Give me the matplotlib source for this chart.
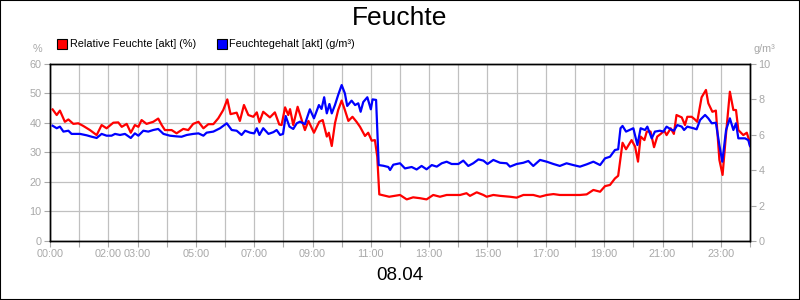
import matplotlib
matplotlib.use("Agg")
import matplotlib.pyplot as plt
from matplotlib.patches import Rectangle
from matplotlib.lines import Line2D

plt.rcParams['font.family'] = ['Liberation Sans', 'DejaVu Sans']

# Relative Feuchte (%), Zeit in Stunden
rh_t = [0.09, 0.23, 0.34, 0.51, 0.63, 0.80, 0.97, 1.14, 1.37, 1.60, 1.77, 1.94,
        2.17, 2.34, 2.46, 2.63, 2.77, 2.91, 3.03, 3.14, 3.31, 3.54, 3.71, 3.83,
        3.94, 4.17, 4.34, 4.57, 4.74, 4.91, 5.09, 5.26, 5.43, 5.60, 5.77, 5.94,
        6.08, 6.19, 6.40, 6.51, 6.65, 6.80, 6.97, 7.09, 7.18, 7.31, 7.54, 7.71,
        7.86, 7.94, 8.06, 8.17, 8.23, 8.34, 8.49, 8.63, 8.74, 8.86, 9.05, 9.23,
        9.35, 9.49, 9.56, 9.66, 9.77, 9.88, 10.0, 10.11, 10.23, 10.37, 10.51, 10.63,
        10.80, 10.91, 11.03, 11.14, 11.22, 11.29, 11.63,
        12.0, 12.23, 12.45, 12.69, 12.91, 13.14, 13.37, 13.6, 13.83, 14.06, 14.28,
        14.40, 14.63, 14.86, 14.97, 15.2, 15.43, 15.77, 16.0, 16.23, 16.57, 16.8,
        17.03, 17.26, 17.48, 17.71, 17.94, 18.17, 18.4, 18.63, 18.86, 19.03, 19.2,
        19.37, 19.48, 19.63, 19.75, 19.94, 20.06, 20.16, 20.25, 20.38, 20.46, 20.59,
        20.71, 20.82, 20.94, 21.06, 21.14, 21.28, 21.39, 21.48, 21.66, 21.77, 21.85,
        22.0, 22.11, 22.19, 22.34, 22.49, 22.57, 22.71, 22.83, 22.95, 23.06, 23.18,
        23.31, 23.43, 23.52, 23.6, 23.77, 23.89, 23.97, 24.0]
rh_v = [44.6, 42.7, 44.2, 40.4, 41.2, 39.7, 39.9, 39.0, 37.6, 35.9, 39.3, 38.2,
        40.1, 40.2, 38.7, 39.7, 36.7, 39.3, 38.7, 41.0, 39.7, 40.4, 41.5, 39.3,
        37.6, 37.6, 36.5, 38.0, 37.6, 39.7, 40.4, 38.2, 39.6, 39.6, 41.6, 44.4,
        48.0, 43.0, 43.5, 40.7, 46.1, 42.7, 42.1, 43.6, 40.3, 43.8, 41.9, 43.6,
        39.5, 39.3, 45.3, 42.7, 44.7, 39.3, 45.5, 41.0, 37.6, 40.7, 36.7, 40.4,
        41.0, 35.4, 36.7, 32.2, 39.9, 44.4, 47.6, 44.4, 40.7, 42.1, 40.4, 38.7,
        35.6, 36.7, 34.0, 34.2, 28.6, 15.8, 15.0,
        15.6, 14.1, 14.8, 14.5, 14.1, 15.6, 15.0, 15.6, 15.6, 15.6, 16.2,
        15.3, 16.5, 15.6, 15.0, 15.6, 15.3, 15.0, 14.7, 15.6, 15.6, 15.0,
        15.6, 15.9, 15.6, 15.6, 15.6, 15.6, 15.8, 17.3, 16.7, 18.6, 19.0,
        21.2, 22.1, 33.3, 31.1, 34.2, 32.0, 26.9, 35.4, 34.2, 37.1, 37.1,
        31.8, 35.4, 36.3, 37.4, 35.9, 38.2, 36.3, 42.7, 41.9, 39.3, 42.1,
        42.1, 41.2, 40.4, 48.7, 51.2, 46.7, 43.8, 44.2, 27.5, 22.4, 36.5,
        50.6, 44.4, 44.4, 37.6, 35.9, 36.7, 34.2, 32.2]

# Feuchtegehalt (g/m³)
ah_t = [0.09, 0.23, 0.34, 0.46, 0.63, 0.74, 1.03, 1.26, 1.43, 1.60, 1.77, 1.94,
        2.11, 2.23, 2.40, 2.57, 2.77, 2.91, 3.03, 3.20, 3.37, 3.54, 3.71, 3.89,
        4.11, 4.34, 4.51, 4.69, 4.91, 5.09, 5.26, 5.37, 5.60, 5.83, 6.06, 6.23,
        6.40, 6.57, 6.69, 6.86, 7.0, 7.09, 7.18, 7.31, 7.49, 7.66, 7.77, 7.89,
        7.99, 8.08, 8.21, 8.34, 8.46, 8.57, 8.74, 8.91, 9.05, 9.22, 9.31, 9.40,
        9.49, 9.58, 9.66, 9.77, 9.88, 10.0, 10.11, 10.19, 10.34, 10.46, 10.57, 10.65,
        10.74, 10.88, 11.0, 11.06, 11.18, 11.27, 11.43, 11.60, 11.66, 11.77,
        12.0, 12.17, 12.4, 12.57, 12.74, 12.91, 13.09, 13.26, 13.43, 13.6, 13.77,
        14.0, 14.17, 14.34, 14.51, 14.69, 14.86, 15.0, 15.2, 15.43, 15.66, 15.77,
        16.0, 16.23, 16.4, 16.57, 16.8, 17.03, 17.26, 17.48, 17.71, 17.94, 18.17,
        18.4, 18.63, 18.86, 19.03, 19.2, 19.37, 19.48, 19.56, 19.63, 19.75, 20.0,
        20.14, 20.25, 20.4, 20.48, 20.63, 20.74, 20.91, 21.03, 21.14, 21.28, 21.39,
        21.51, 21.66, 21.74, 21.85, 22.06, 22.17, 22.29, 22.46, 22.57, 22.69, 22.83,
        22.95, 23.05, 23.18, 23.31, 23.43, 23.52, 23.6, 23.83, 23.94, 24.0]
ah_v = [6.51, 6.37, 6.46, 6.18, 6.23, 6.05, 6.05, 5.97, 5.89, 5.82, 6.05, 5.95,
        5.95, 6.05, 5.99, 6.05, 5.82, 6.08, 5.95, 6.23, 6.18, 6.27, 6.33, 6.05,
        5.95, 5.91, 5.89, 5.99, 6.05, 6.08, 5.95, 6.12, 6.18, 6.37, 6.65, 6.27,
        6.23, 5.99, 6.23, 6.12, 6.08, 6.37, 5.99, 6.37, 6.05, 6.15, 6.27, 5.99,
        6.05, 7.06, 6.46, 6.33, 6.65, 6.74, 6.60, 7.44, 6.93, 7.68, 7.46, 8.12,
        7.21, 7.74, 7.21, 7.68, 8.25, 8.81, 8.34, 7.63, 7.93, 7.68, 7.78, 7.30,
        7.85, 8.12, 7.44, 8.00, 7.97, 4.29, 4.25, 4.18, 4.01, 4.31,
        4.39, 4.10, 4.18, 4.04, 4.24, 4.05, 4.29, 4.20, 4.39, 4.48, 4.35,
        4.35, 4.54, 4.24, 4.39, 4.61, 4.54, 4.35, 4.58, 4.42, 4.39, 4.20,
        4.35, 4.42, 4.52, 4.24, 4.58, 4.48, 4.35, 4.24, 4.39, 4.29, 4.20,
        4.33, 4.48, 4.29, 4.67, 4.76, 5.14, 5.18, 6.37, 6.50, 6.18, 6.37,
        5.42, 6.37, 6.27, 6.46, 5.80, 6.18, 6.23, 6.18, 6.46, 6.31, 6.23,
        6.55, 6.46, 6.27, 6.46, 6.37, 6.31, 6.84, 7.12, 6.93, 6.65, 6.68,
        5.42, 4.48, 6.27, 6.93, 6.27, 6.65, 5.80, 5.80, 5.70, 5.37]

hours = list(range(25))
hour_labels = ['00:00', '', '02:00', '03:00', '', '05:00', '', '07:00', '', '09:00',
               '', '11:00', '', '13:00', '', '15:00', '', '17:00', '', '19:00',
               '', '21:00', '', '23:00', '']

GRAY = '#a8a8a8'
GRID = '#c0c0c0'
FS = 7.8

fig = plt.figure(figsize=(8, 3), dpi=100)
ax = fig.add_axes([0.0625, 0.1967, 0.875, 0.59])
ax2 = ax.twinx()

ax.plot(rh_t, rh_v, color='#ff0000', lw=1.6, zorder=3)
ax2.plot(ah_t, ah_v, color='#0000ff', lw=1.6, zorder=3)

ax.set_xlim(0, 24)
ax.set_ylim(0, 60)
ax2.set_ylim(0, 10)
ax.set_yticks(range(0, 61, 10))
ax2.set_yticks(range(0, 11, 2))
ax.set_xticks(hours)
ax.set_xticklabels(hour_labels)

ax.grid(True, color=GRID, lw=0.9)
ax.set_axisbelow(True)
for a in (ax, ax2):
    a.tick_params(colors=GRAY, labelsize=FS, length=4, width=0.8, pad=2)
    for s in a.spines.values():
        s.set_color('black')
        s.set_linewidth(1.0)

fig.text(0.5, 0.94, 'Feuchte', ha='center', va='center', fontsize=19)
fig.text(0.5, 0.083, '08.04', ha='center', va='center', fontsize=13.5)
fig.text(0.053, 0.838, '%', ha='right', va='center', fontsize=FS, color=GRAY)
fig.text(0.942, 0.835, 'g/m³', ha='left', va='center', fontsize=FS, color=GRAY)

handles = [Line2D([], [], ls='', marker='s', ms=7, mfc='#ff0000', mec='black', mew=0.8),
           Line2D([], [], ls='', marker='s', ms=7, mfc='#0000ff', mec='black', mew=0.8)]
fig.legend(handles, ['Relative Feuchte [akt] (%)', 'Feuchtegehalt [akt] (g/m³)'],
           loc='center left', bbox_to_anchor=(0.072, 0.852), ncol=2, frameon=False,
           fontsize=FS, handlelength=0.8, handletextpad=0.3, columnspacing=2.0,
           borderpad=0, borderaxespad=0)

fig.patches.append(Rectangle((0, 0), 1, 1, transform=fig.transFigure, fill=False,
                             edgecolor='black', lw=1.5))

fig.savefig('out.png', dpi=100)
